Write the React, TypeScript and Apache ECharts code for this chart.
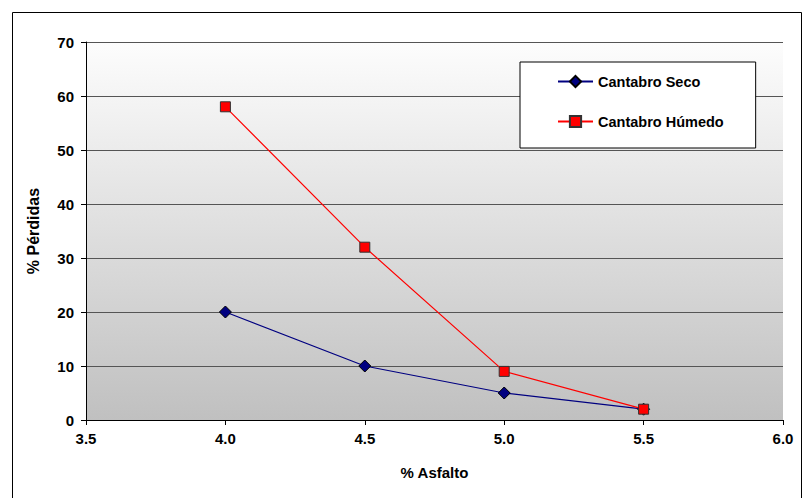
import React, { useEffect, useRef } from "react";
import * as echarts from "echarts";

// Asphalt content (%) on the x axis
const asfalto = [4.0, 4.5, 5.0, 5.5];
// Cantabro losses (%)
const cantabroSeco = [20, 10, 5, 2];
const cantabroHumedo = [58, 32, 9, 2];

const xTicks = { min: 3.5, max: 6.0, interval: 0.5 };
const yTicks = { min: 0, max: 70, interval: 10 };

const FONT = "Liberation Sans, Arial, sans-serif";

export default function App() {
  const ref = useRef<HTMLDivElement>(null);

  useEffect(() => {
    if (!ref.current) return;
    const chart = echarts.init(ref.current, null, { renderer: "svg" });
    const pair = (ys: number[]) => asfalto.map((x, i) => [x, ys[i]]);

    chart.setOption({
      animation: false,
      backgroundColor: "#ffffff",
      textStyle: { fontFamily: FONT, color: "#000" },
      grid: {
        left: 86,
        right: 26,
        top: 42,
        bottom: 78,
        show: true,
        borderWidth: 0,
        backgroundColor: new echarts.graphic.LinearGradient(0, 0, 0, 1, [
          { offset: 0, color: "#fdfdfd" },
          { offset: 1, color: "#c0c0c0" },
        ]),
      },
      graphic: [
        {
          type: "rect",
          shape: { x: 12.5, y: 12.5, width: 789, height: 500 },
          style: { fill: "none", stroke: "#000", lineWidth: 1 },
          silent: true,
          z: -10,
        },
      ],
      legend: {
        orient: "vertical",
        left: 520,
        top: 62,
        padding: [12, 32, 19, 37],
        itemWidth: 35,
        itemHeight: 14,
        itemGap: 25,
        backgroundColor: "#ffffff",
        borderColor: "#000",
        borderWidth: 1,
        borderRadius: 0,
        textStyle: { fontFamily: FONT, fontWeight: "bold", fontSize: 14.5, color: "#000" },
        data: ["Cantabro Seco", "Cantabro Húmedo"],
      },
      xAxis: {
        type: "value",
        min: xTicks.min,
        max: xTicks.max,
        interval: xTicks.interval,
        name: "% Asfalto",
        nameLocation: "middle",
        nameGap: 45,
        nameTextStyle: { fontFamily: FONT, fontWeight: "bold", fontSize: 15, color: "#000" },
        axisLine: { show: true, onZero: false, lineStyle: { color: "#000", width: 1 } },
        axisTick: { show: true, inside: false, length: 5, lineStyle: { color: "#000" } },
        axisLabel: {
          fontFamily: FONT,
          fontWeight: "bold",
          fontSize: 15,
          color: "#000",
          margin: 11,
          formatter: (v: number) => v.toFixed(1),
        },
        splitLine: { show: false },
      },
      yAxis: {
        type: "value",
        min: yTicks.min,
        max: yTicks.max,
        interval: yTicks.interval,
        name: "% Pérdidas",
        nameLocation: "middle",
        nameGap: 45,
        nameTextStyle: { fontFamily: FONT, fontWeight: "bold", fontSize: 16, color: "#000" },
        axisLine: { show: true, lineStyle: { color: "#000", width: 1 } },
        axisTick: { show: true, inside: false, length: 5, lineStyle: { color: "#000" } },
        axisLabel: {
          fontFamily: FONT,
          fontWeight: "bold",
          fontSize: 15,
          color: "#000",
          margin: 12,
        },
        splitLine: { show: true, lineStyle: { color: "#555555", width: 1 } },
      },
      series: [
        {
          name: "Cantabro Seco",
          type: "line",
          data: pair(cantabroSeco),
          symbol: "diamond",
          symbolSize: 12,
          lineStyle: { color: "#000080", width: 1.2 },
          itemStyle: { color: "#000080", borderColor: "#000", borderWidth: 1 },
          z: 3,
        },
        {
          name: "Cantabro Húmedo",
          type: "line",
          data: pair(cantabroHumedo),
          symbol: "rect",
          symbolSize: 10,
          lineStyle: { color: "#ff0000", width: 1.2 },
          itemStyle: { color: "#ff0000", borderColor: "#333", borderWidth: 1 },
          z: 4,
        },
      ],
    });

    return () => chart.dispose();
  }, []);

  return (
    <div
      ref={ref}
      style={{ position: "fixed", left: 0, top: 0, width: 809, height: 498 }}
    />
  );
}
